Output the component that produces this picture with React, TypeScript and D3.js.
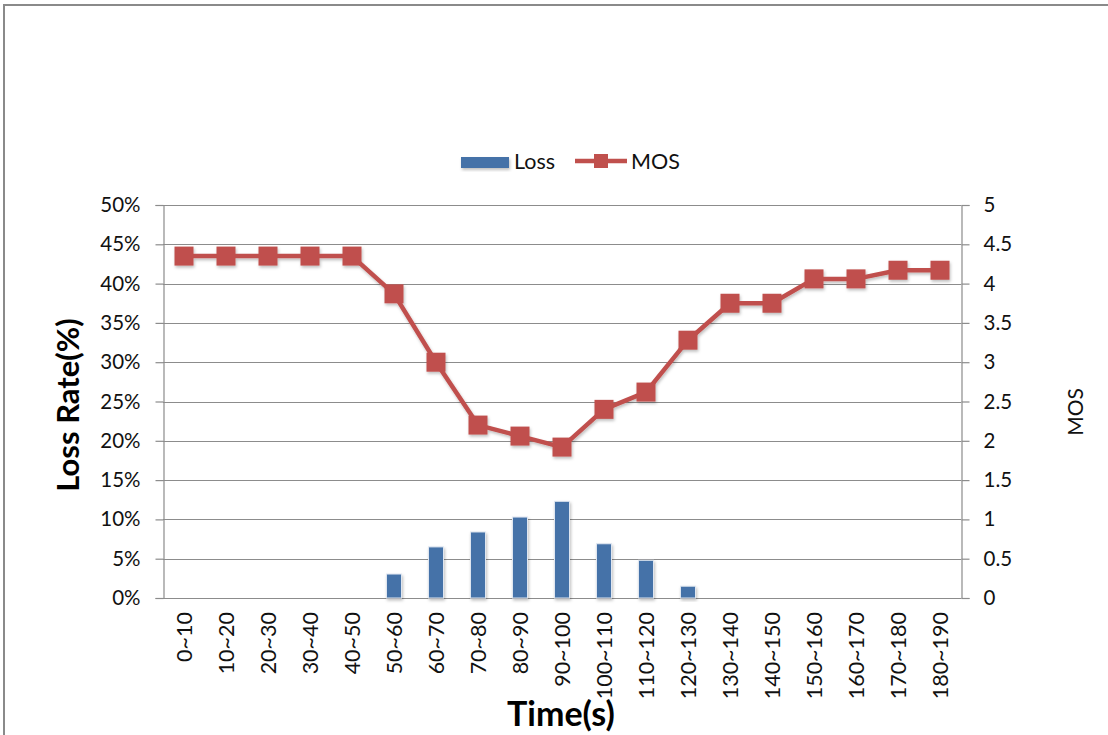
import React, { useEffect, useRef } from "react";
import * as d3 from "d3";

const categories = [
  "0~10", "10~20", "20~30", "30~40", "40~50", "50~60", "60~70", "70~80", "80~90", "90~100",
  "100~110", "110~120", "120~130", "130~140", "140~150", "150~160", "160~170", "170~180", "180~190",
];
const lossRate = [0, 0, 0, 0, 0, 3.05, 6.5, 8.4, 10.3, 12.3, 6.9, 4.8, 1.5, 0, 0, 0, 0, 0, 0];
const mos = [4.35, 4.35, 4.35, 4.35, 4.35, 3.87, 3.0, 2.2, 2.06, 1.92, 2.4, 2.62, 3.28, 3.75, 3.75, 4.06, 4.06, 4.17, 4.17];
const lossTicks = [0, 5, 10, 15, 20, 25, 30, 35, 40, 45, 50];
const mosTicks = [0, 0.5, 1, 1.5, 2, 2.5, 3, 3.5, 4, 4.5, 5];

const W = 1108;
const H = 735;
const FONT = "Lato, 'Open Sans', sans-serif";
const BLUE = "#4572A8";
const RED = "#C0504D";

export default function App() {
  const ref = useRef<SVGSVGElement | null>(null);

  useEffect(() => {
    const svg = d3.select(ref.current);
    svg.selectAll("*").remove();

    const left = 163, right = 961, top = 205, bottom = 598;

    const x = d3.scaleBand<string>().domain(categories).range([left, right]).padding(0);
    const yL = d3.scaleLinear().domain([0, 50]).range([bottom, top]);
    const yR = d3.scaleLinear().domain([0, 5]).range([bottom, top]);

    const defs = svg.append("defs");
    const f = defs.append("filter").attr("id", "shadow").attr("x", "-30%").attr("y", "-30%").attr("width", "160%").attr("height", "160%");
    f.append("feDropShadow").attr("dx", 1).attr("dy", 2).attr("stdDeviation", 1.5).attr("flood-color", "#000").attr("flood-opacity", 0.25);

    // outer frame
    svg.append("path").attr("d", `M4,${H} L4,5 L${W},5`).attr("fill", "none").attr("stroke", "#8a8a8a").attr("stroke-width", 2);

    // horizontal gridlines
    svg.append("g").selectAll("line").data(lossTicks).join("line")
      .attr("x1", left).attr("x2", right)
      .attr("y1", (d) => Math.round(yL(d)) + 0.5).attr("y2", (d) => Math.round(yL(d)) + 0.5)
      .attr("stroke", "#8c8c8c").attr("stroke-width", 1.2);

    // left axis
    const gL = svg.append("g").attr("transform", `translate(${left + 0.5},0)`)
      .call(d3.axisLeft(yL).tickValues(lossTicks).tickSize(8).tickPadding(15).tickFormat((d) => `${d}%`));
    // right axis
    const gR = svg.append("g").attr("transform", `translate(${right + 0.5},0)`)
      .call(d3.axisRight(yR).tickValues(mosTicks).tickSize(8).tickPadding(14).tickFormat((d) => `${d}`));
    [gL, gR].forEach((g) => {
      g.select(".domain").attr("stroke", "#8c8c8c").attr("stroke-width", 1.2);
      g.selectAll(".tick line").attr("stroke", "#8c8c8c").attr("stroke-width", 1.2);
      g.selectAll(".tick text").attr("font-family", FONT).attr("font-size", 20.5).attr("fill", "#111");
    });

    // bottom axis line
    svg.append("line").attr("x1", left).attr("x2", right).attr("y1", bottom + 0.5).attr("y2", bottom + 0.5)
      .attr("stroke", "#8c8c8c").attr("stroke-width", 1.2);

    // category labels
    svg.append("g").selectAll("text").data(categories).join("text")
      .attr("transform", (d) => `translate(${x(d)! + x.bandwidth() / 2 + 7.5},612) rotate(-90)`)
      .attr("text-anchor", "end")
      .attr("font-family", FONT).attr("font-size", 21.5).attr("fill", "#111")
      .text((d) => d);

    // loss bars
    const bw = 15;
    svg.append("g").selectAll("rect").data(lossRate.map((v, i) => ({ v, c: categories[i] })).filter((d) => d.v > 0)).join("rect")
      .attr("x", (d) => x(d.c)! + x.bandwidth() / 2 - bw / 2)
      .attr("y", (d) => yL(d.v))
      .attr("width", bw)
      .attr("height", (d) => bottom - yL(d.v))
      .attr("fill", BLUE).attr("stroke", "#dfe6f0").attr("stroke-width", 1)
      .attr("filter", "url(#shadow)");

    // MOS line
    const pts = mos.map((v, i) => [x(categories[i])! + x.bandwidth() / 2, yR(v)] as [number, number]);
    const gLine = svg.append("g").attr("filter", "url(#shadow)");
    gLine.append("path").attr("d", d3.line()(pts)!).attr("fill", "none").attr("stroke", RED).attr("stroke-width", 4.5).attr("stroke-linejoin", "round");
    const ms = 19;
    gLine.selectAll("rect").data(pts).join("rect")
      .attr("x", (d) => d[0] - ms / 2).attr("y", (d) => d[1] - ms / 2)
      .attr("width", ms).attr("height", ms).attr("fill", RED);

    // axis titles
    svg.append("text").attr("transform", "translate(79,405) rotate(-90)").attr("text-anchor", "middle")
      .attr("font-family", FONT).attr("font-size", 31).attr("font-weight", "bold").attr("fill", "#000").text("Loss Rate(%)");
    svg.append("text").attr("transform", "translate(1083,412) rotate(-90)").attr("text-anchor", "middle")
      .attr("font-family", FONT).attr("font-size", 21).attr("fill", "#111").text("MOS");
    svg.append("text").attr("x", 561).attr("y", 726).attr("text-anchor", "middle")
      .attr("font-family", FONT).attr("font-size", 34).attr("font-weight", "bold").attr("fill", "#000").text("Time(s)");

    // legend
    const lg = svg.append("g");
    lg.append("rect").attr("x", 461).attr("y", 157).attr("width", 48).attr("height", 11).attr("fill", BLUE).attr("filter", "url(#shadow)");
    lg.append("text").attr("x", 514).attr("y", 169).attr("font-family", FONT).attr("font-size", 21.5).attr("fill", "#111").text("Loss");
    lg.append("line").attr("x1", 575).attr("x2", 627).attr("y1", 161).attr("y2", 161).attr("stroke", RED).attr("stroke-width", 4.5);
    lg.append("rect").attr("x", 594).attr("y", 154).attr("width", 14).attr("height", 14).attr("fill", RED);
    lg.append("text").attr("x", 631).attr("y", 169).attr("font-family", FONT).attr("font-size", 21.5).attr("fill", "#111").text("MOS");
  }, []);

  return (
    <svg ref={ref} width={W} height={H} style={{ position: "absolute", left: 0, top: 0, background: "#fff" }} />
  );
}
